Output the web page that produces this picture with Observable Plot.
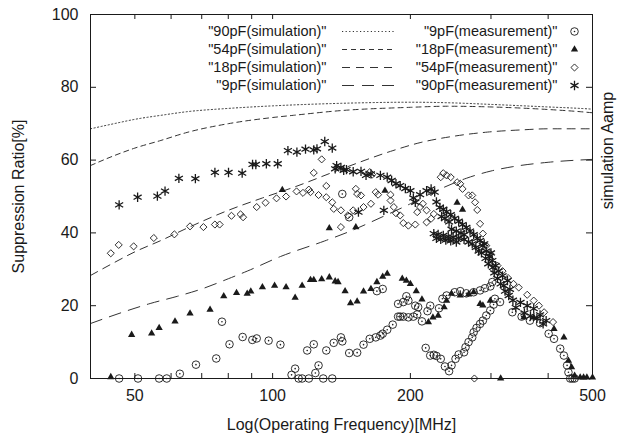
<!DOCTYPE html>
<html><head><meta charset="utf-8">
<script src="https://cdn.jsdelivr.net/npm/d3@7"></script>
<script src="https://cdn.jsdelivr.net/npm/@observablehq/plot@0.6"></script>
<style>body{margin:0;background:#fff}</style>
</head><body><div id="chart"></div>
<script>
// ---- axis ticks ----
const xMajor = [50, 100, 200, 500];
const xMinor = [60, 70, 80, 90, 300, 400];
const yTicks = [0, 20, 40, 60, 80, 100];

// ---- simulation curves [MHz, %] ----
const sim90 = [[40,68.6],[45,70],[50,71.2],[57,72.3],[65,73.3],[80,74.2],[100,74.9],[141,75.6],[200,75.9],[250,75.7],[300,75.3],[400,74.6],[470,74.2],[500,74.0]];
const sim54 = [[40,58.5],[45,61.2],[50,63.3],[57,65.4],[65,67.6],[80,70],[100,71.7],[111,72.3],[141,73.6],[200,74.5],[241,74.8],[300,74.6],[400,73.9],[470,73.3],[500,73.0]];
const sim18 = [[40,28.3],[45,31.8],[50,34.8],[57,37.9],[65,41.3],[80,46.2],[95,49.6],[111,52.5],[141,57.5],[181,62.4],[210,64.8],[250,66.6],[295,67.7],[350,68.3],[400,68.6],[500,68.6]];
const sim9  = [[40,15.1],[47,18.2],[54,20.6],[62,22.6],[70,24.6],[80,27.4],[88,29.5],[104,33.5],[130,37.8],[146,40.2],[175,44.6],[200,48],[230,51.8],[265,55],[300,57],[335,58.2],[400,59.4],[500,60.2]];

// ---- measurements [MHz, %] ----
const meas9 = [[46.2,0],[50.8,0],[56.5,0],[58.7,0],[62.7,1.3],[68,3.8],[75.3,5.5],[77.5,15.6],[80.5,9.4],[86,11.4],[90.3,10.6],[92.3,11],[98,10.4],[104,9.3],[110,1.0],[112,2.7],[114,0],[116,0],[120,0],[124,1.5],[126,3.6],[129,0],[135,0],[119,7.7],[123,9.4],[131,7.7],[136,9.8],[141,11.3],[142,10.2],[147,7],[153,7.1],[158,9.3],[163,10.9],[168,11.3],[172,11.8],[174,12.3],[178,13.4],[183,14.8],[188,17],[190,17],[193,17],[198,16.8],[203,17],[207,17.6],[208,19.6],[193,21],[198,21.4],[196,22.6],[188,20.5],[205,20],[212,15.7],[218,18.5],[221,20],[169,24],[174,24.6],[231,19.3],[216,8.4],[221,6.3],[225,6.5],[228,6.2],[233,5.4],[238,3.3],[243,2],[246,3.6],[251,5.4],[255,6.6],[262,7.2],[264,8.6],[268,10],[273,11.3],[275,12.7],[279,13.9],[284,15],[288,15.9],[293,17.3],[299,18.7],[304,20.3],[306,21.9],[314,21],[235,21.9],[240,22.8],[250,23.7],[257,24],[265,23.4],[275,23.7],[284,24.2],[291,24.8],[299,25.3],[302,26.5],[334,18.2],[350,17],[365,15.9],[384,15.2],[401,12.3],[412,10.9],[425,8.2],[433,6.3],[440,3.6],[443,1.7],[447,0],[452,0],[457,0],[142,50.7],[147,44.3]];
const meas18 = [[44.3,0.4],[49.2,12.0],[54.4,12.4],[56.5,13.9],[61.2,15.7],[66,17.9],[73,18.9],[78.2,22.6],[83.4,23.5],[88,23.3],[89.6,23.9],[95,25.1],[101,25.5],[107,25.1],[112,22.2],[116,25.5],[121,27.1],[123,27.1],[128,27.3],[133,27.8],[137,26.7],[139,26.5],[105,51.8],[133,41.3],[152,41.6],[176,51.6],[144,24],[148,20.7],[153,21.2],[158,23.9],[164,24.6],[169,26.5],[174,28],[178,28.8],[192,27.4],[196,26.9],[200,26],[206,24],[212,21.7],[219,15.5],[224,16.8],[230,17.3],[237,19.6],[240,21.4],[246,23.3],[257,22.8],[268,23.1],[275,23.7],[284,20.5],[288,20.1],[299,21.4],[253,48.3],[260,46.4],[354,16.8],[372,16.8],[412,13.6],[433,11.3],[443,4.9],[450,3.1],[457,0.8],[470,0.3],[478,0.3],[486,0.3],[500,0.3],[315,0]];
const meas54 = [[44.3,34.4],[46.1,36.7],[49.7,36.3],[55,38.6],[61,39.6],[66,41.8],[70.6,41.6],[74.8,42.3],[76.6,42.3],[81.3,44.7],[85.1,45.1],[86.2,44.3],[92.3,47.1],[96.5,48.3],[102,49.5],[107,50],[112.8,51.4],[116.5,51],[120,51.9],[121,51.2],[126,50.4],[131,49.8],[131,52.9],[128,60.2],[123,56.5],[135,48.4],[136,46.6],[141,46.2],[141,41.6],[146,44.8],[150,46.2],[152,52.1],[153,50.7],[156,50.3],[158,47.1],[163,56.7],[165,56],[168,51.2],[170,50.5],[164,48],[181,50.5],[181,48.9],[184,47.1],[186,45.4],[190,44.8],[193,42.7],[198,42],[205,42.3],[207,45.7],[210,47.1],[213,48],[217,46.2],[217,42.9],[222,43.9],[225,45.2],[222,51.2],[233,55.3],[236,56.4],[240,55.8],[245,55.3],[253,53.9],[257,53.5],[260,52.1],[268,50.3],[273,50.3],[277,48.4],[280,46.3],[284,42.5],[288,39.8],[293,36.5],[299,34.3],[310,31],[318,29.5],[327,27.6],[336,26],[345,25],[360,23],[372,21.4],[382,20],[392,18.2],[410,15.5],[276,0]];
const meas90 = [[46.2,47.7],[50.7,49.8],[56,50.1],[58.2,51.5],[62.4,55],[67.8,54.9],[74.8,56.6],[80.1,56.6],[85.8,56.4],[90.4,58.8],[91.9,58.8],[96.9,59],[102.6,59],[108,62.6],[113,62.2],[118,63],[123,62.8],[125,63.1],[130,65.1],[135,63.3],[137,57.6],[138,58.5],[141,58],[143,57.2],[145,57.4],[150,56.8],[156,56.9],[160,55.8],[164,56.2],[172,55.8],[178,55.3],[182,54.4],[186,53.5],[190,53],[195,52.2],[200,51.6],[203,49.6],[205,48.4],[210,50.5],[217,51.6],[222,52.1],[226,51.2],[154,45.7],[175,46.2],[228,48.5],[232,47],[234,44.5],[236,46.5],[240,45.8],[245,45],[246,41],[250,44],[252,40.5],[255,43.2],[258,40],[260,42.3],[265,41.5],[268,37.5],[270,40.5],[275,39.5],[278,36],[280,38.5],[284,37.9],[286,34.5],[288,36.5],[290,37],[293,35],[296,31.5],[298,33.5],[300,34.5],[302,32.4],[305,29],[307,31],[312,29.5],[315,26],[318,28.2],[322,24],[326,26.9],[330,24.5],[328,22.8],[335,21.5],[340,19.5],[348,20.9],[355,18],[360,20],[366,17.2],[372,19.2],[378,16.5],[384,17.5],[390,15],[396,15.9],[225,39.8],[228,38.5],[230,39.6],[233,38.2],[236,39.3],[239,38],[242,39],[245,37.8],[248,38.8],[252,37.5],[255,38.6],[262,38.2],[238,44],[243,43],[262,39.5],[273,37],[282,35],[292,33],[303,30.5],[310,27.5],[320,25.5]];

// ---- legend ----
const simLabels = ['"90pF(simulation)"', '"54pF(simulation)"', '"18pF(simulation)"', '"9pF(simulation)"'];
const measLabels = ['"9pF(measurement)"', '"18pF(measurement)"', '"54pF(measurement)"', '"90pF(measurement)"'];
const dashes = ["1.2,2.4", "5,4", "8,6", "12,8"];

const W = 617, H = 434, ML = 90, MR = 25, MT = 14, MB = 56;
const FONT = "'Liberation Sans', Arial, Helvetica, sans-serif";
const INK = "#1a1a1a";
const tickLenY = 5 / ((H - MT - MB) / 100);                 // x-tick length in y units
const kX = Math.pow(2, 6 / ((W - ML - MR) / Math.log2(500 / 40))); // y-tick length as x ratio
const fx = d => d[0], fy = d => d[1];

const sims = [sim90, sim54, sim18, sim9];
const marks = [];
// ticks (inward, mirrored)
const xAll = xMajor.concat(xMinor);
marks.push(Plot.ruleX(xAll, {x: d => d, y1: 0, y2: tickLenY, stroke: INK}));
marks.push(Plot.ruleX(xAll, {x: d => d, y1: 100 - tickLenY, y2: 100, stroke: INK}));
marks.push(Plot.ruleY(yTicks, {y: d => d, x1: 40, x2: 40 * kX, stroke: INK}));
marks.push(Plot.ruleY(yTicks, {y: d => d, x1: 500 / kX, x2: 500, stroke: INK}));
// simulation lines
sims.forEach((s, i) => marks.push(Plot.line(s, {x: fx, y: fy, curve: "monotone-x", stroke: "#333", strokeWidth: 1, strokeDasharray: dashes[i]})));
// measurement points
marks.push(Plot.dot(meas9, {x: fx, y: fy, r: 3.8, stroke: INK, strokeWidth: 0.9, fill: "none"}));
marks.push(Plot.dot(meas9, {x: fx, y: fy, r: 0.8, fill: INK, stroke: "none"}));
marks.push(Plot.dot(meas18, {x: fx, y: fy, symbol: "triangle", r: 2.7, fill: INK, stroke: "none"}));
marks.push(Plot.dot(meas54, {x: fx, y: fy, symbol: "diamond2", r: 3.2, stroke: INK, strokeWidth: 0.9, fill: "none"}));
marks.push(Plot.dot(meas90, {x: fx, y: fy, symbol: "asterisk", r: 4.4, stroke: INK, strokeWidth: 1.3}));
marks.push(Plot.frame({stroke: INK, strokeWidth: 1}));
// axis titles
marks.push(Plot.text(["Suppression Ratio[%]"], {frameAnchor: "left", dx: -72, rotate: -90, textAnchor: "middle", lineAnchor: "middle", text: d => d, fontSize: 16}));
marks.push(Plot.text(["simulation Aamp"], {frameAnchor: "right", dx: 15, dy: -46, rotate: -90, textAnchor: "middle", lineAnchor: "middle", text: d => d, fontSize: 16}));
marks.push(Plot.text(["Log(Operating Frequency)[MHz]"], {frameAnchor: "bottom", dy: 46, textAnchor: "middle", lineAnchor: "middle", text: d => d, fontSize: 16}));
// legend text and symbols
const rowY = i => 17 + 18 * i;
simLabels.forEach((t, i) => marks.push(Plot.text([t], {frameAnchor: "top-left", dx: 236, dy: rowY(i), textAnchor: "end", lineAnchor: "middle", text: d => d, fontSize: 14.5})));
measLabels.forEach((t, i) => marks.push(Plot.text([t], {frameAnchor: "top-left", dx: 467, dy: rowY(i), textAnchor: "end", lineAnchor: "middle", text: d => d, fontSize: 14.5})));
const lg = {frameAnchor: "top-left", dx: 484};
marks.push(Plot.dot([0], {...lg, dy: rowY(0), r: 3.8, stroke: INK, strokeWidth: 0.9, fill: "none"}));
marks.push(Plot.dot([0], {...lg, dy: rowY(0), r: 0.8, fill: INK, stroke: "none"}));
marks.push(Plot.dot([0], {...lg, dy: rowY(1), symbol: "triangle", r: 2.7, fill: INK, stroke: "none"}));
marks.push(Plot.dot([0], {...lg, dy: rowY(2), symbol: "diamond2", r: 3.2, stroke: INK, strokeWidth: 0.9, fill: "none"}));
marks.push(Plot.dot([0], {...lg, dy: rowY(3), symbol: "asterisk", r: 4.4, stroke: INK, strokeWidth: 1.3}));

const plot = Plot.plot({
  width: W, height: H,
  marginLeft: ML, marginRight: MR, marginTop: MT, marginBottom: MB,
  style: {fontFamily: FONT, fontSize: "16px", background: "white", color: INK},
  x: {type: "log", domain: [40, 500], ticks: xMajor, tickFormat: d => String(d), tickSize: 0, tickPadding: 11, label: null},
  y: {domain: [0, 100], ticks: yTicks, tickSize: 0, tickPadding: 12, label: null},
  marks
});
document.getElementById("chart").appendChild(plot);

// legend line samples
const svg = d3.select(plot.tagName.toLowerCase() === "svg" ? plot : plot.querySelector("svg"));
const lgG = svg.append("g").attr("stroke", "#333").attr("stroke-width", 1).attr("fill", "none");
dashes.forEach((d, i) => {
  const y = MT + rowY(i) + 0.5;
  lgG.append("line").attr("x1", ML + 252).attr("x2", ML + 305).attr("y1", y).attr("y2", y).attr("stroke-dasharray", d);
});
</script></body></html>
